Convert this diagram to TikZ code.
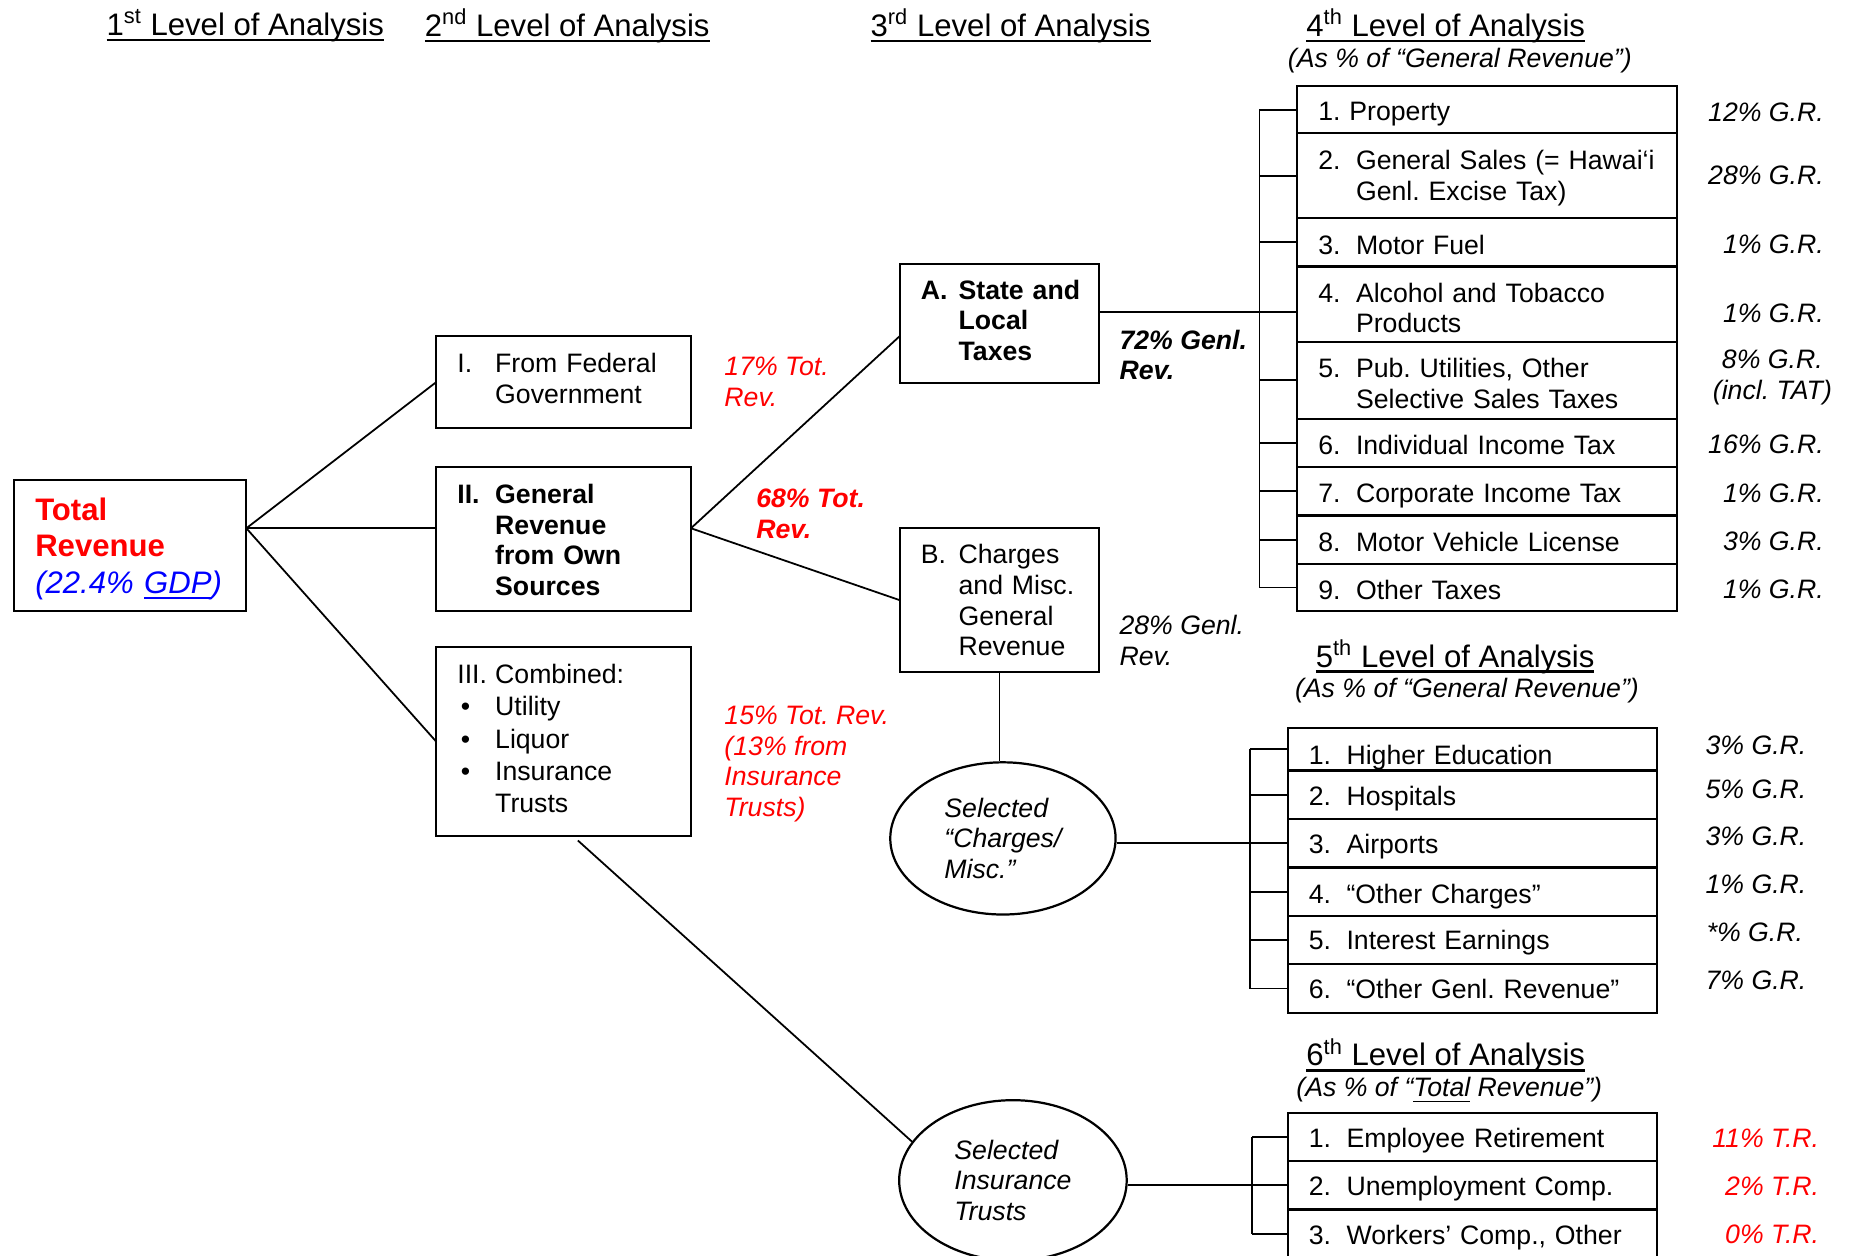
\documentclass[tikz,border=0pt]{standalone}
\usepackage{fontspec}
\setmainfont{Liberation Sans}
\usetikzlibrary{positioning,shapes.geometric}
\definecolor{RevRed}{HTML}{FF0000}
\definecolor{GdpBlue}{HTML}{0000FF}
\frenchspacing

\newcommand\bodysize{\fontsize{12}{13.8}\selectfont}
\newcommand\headsize{\fontsize{14}{16.4}\selectfont}
% underline sitting close to the baseline
\newcommand\uln[2][1.2pt]{\setbox0\hbox{#2}\rlap{\rule[-2.6pt]{\wd0}{#1}}\box0\relax}
% hanging number column
\newcommand\hang[1]{\makebox[17pt][l]{#1}}
% lower a box text a little, keeping its size
\newcommand\drop[2][1.6pt]{\raisebox{-#1}[\height][\depth]{#2}}

\tikzset{
  box/.style={draw,line width=1pt,rectangle,outer sep=0pt,inner xsep=9.5pt,inner ysep=0pt,
    align=left,anchor=north west,font=\bodysize},
  row4/.style={box,text width=151.9pt},
  row5/.style={box,text width=147.1pt},
  oval/.style={draw,line width=1pt,ellipse,inner sep=0pt,align=left,font=\bodysize\itshape},
  lvlhead/.style={inner sep=0pt,font=\headsize},
  lvlnote/.style={inner sep=0pt,font=\bodysize\itshape},
  share/.style={inner sep=0pt,anchor=west,align=left,font=\bodysize\itshape},
  pct/.style={inner sep=0pt,font=\bodysize\itshape},
  link/.style={line width=0.8pt},
}

\begin{document}
\begin{tikzpicture}[x=0.5307pt,y=-0.5307pt]
\useasboundingbox (0,0) rectangle (1568,1065);

% level headings
\node[lvlhead] (h1) at (208,22) {\uln{1\textsuperscript{st} Level of Analysis}};
\node[lvlhead] (h2) at (481,22) {\uln{2\textsuperscript{nd} Level of Analysis}};
\node[lvlhead] (h3) at (857,22) {\uln{3\textsuperscript{rd} Level of Analysis}};
\node[lvlhead] (h4) at (1226,22) {\uln{4\textsuperscript{th} Level of Analysis}};
\node[lvlnote] (n4) at (1238,51) {(As \% of “General Revenue”)};
\node[lvlhead] (h5) at (1234,557) {\uln{5\textsuperscript{th} Level of Analysis}};
\node[lvlnote] (n5) at (1244,586) {(As \% of “General Revenue”)};
\node[lvlhead] (h6) at (1226,895) {\uln{6\textsuperscript{th} Level of Analysis}};
\node[lvlnote] (n6) at (1229,924) {(As \% of “\uln[0.7pt]{Total} Revenue”)};

% levels 1 and 2
\node[box,text width=85.5pt,minimum height=58.9pt,font=\headsize] (trev) at (12,407)
  {\drop[1.9pt]{\begin{tabular}{@{}l@{}}\color{RevRed}\bfseries Total\\\color{RevRed}\bfseries Revenue\\
   \color{GdpBlue}\itshape(22.4\% \uln[0.8pt]{GDP})\end{tabular}}};
\node[box,text width=95.6pt,minimum height=41.4pt] (fed) at (370,285)
  {\begin{tabular}{@{}l@{}l@{}}\hang{I.}&From Federal\\&Government\end{tabular}};
\node[box,text width=95.6pt,minimum height=64.7pt,font=\bodysize\bfseries] (own) at (370,396)
  {\drop[2.1pt]{\begin{tabular}{@{}l@{}l@{}}\hang{II.}&General\\&Revenue\\&from Own\\&Sources\end{tabular}}};
\node[box,text width=95.6pt,minimum height=84.9pt] (comb) at (370,549)
  {\renewcommand\arraystretch{1.05}\begin{tabular}{@{}l@{}l@{}}\hang{III.}&Combined:\\\hang{\hspace{1.5pt}\textbullet}&Utility\\
   \hang{\hspace{1.5pt}\textbullet}&Liquor\\\hang{\hspace{1.5pt}\textbullet}&Insurance\\&Trusts\end{tabular}};

% level 3
\node[box,text width=70.7pt,minimum height=53.6pt,font=\bodysize\bfseries] (sltax) at (763,224)
  {\begin{tabular}{@{}l@{}l@{}}\hang{A.}&State and\\&Local\\&Taxes\end{tabular}};
\node[box,text width=70.7pt,minimum height=64.7pt] (chg) at (763,448)
  {\drop{\begin{tabular}{@{}l@{}l@{}}\hang{B.}&Charges\\&and Misc.\\&General\\&Revenue\end{tabular}}};
\node[oval,minimum width=101.4pt,minimum height=68.5pt] (sel) at (850.5,711) {Selected\\“Charges/\\Misc.”};
\node[oval,minimum width=102.4pt,minimum height=72.2pt] (ins) at (859,1001) {Selected\\Insurance\\Trusts};

% shares along the branches
\node[share,text=RevRed] (s17) at (614,324) {17\% Tot.\\Rev.};
\node[share,text=RevRed,font=\bodysize\bfseries\itshape] (s68) at (641,436) {68\% Tot.\\Rev.};
\node[share,text=RevRed] (s15) at (614,648) {15\% Tot. Rev.\\(13\% from\\Insurance\\Trusts)};
\node[share,font=\bodysize\bfseries\itshape] (s72) at (949,301) {72\% Genl.\\Rev.};
\node[share] (s28) at (949,543) {28\% Genl.\\Rev.};

% level 4
\node[row4,minimum height=21.2pt] (r1) at (1100,73) {\drop[2.1pt]{1. Property}};
\node[row4,minimum height=38.2pt,below=0pt of r1] (r2)
  {\drop{\begin{tabular}{@{}l@{}l@{}}\hang{2.}&General Sales (= Hawai‘i\\&Genl. Excise Tax)\end{tabular}}};
\node[row4,minimum height=21.8pt,below=0pt of r2] (r3) {\drop[1pt]{\hang{3.}Motor Fuel}};
\node[row4,minimum height=34pt,below=0pt of r3] (r4)
  {\drop[3.2pt]{\begin{tabular}{@{}l@{}l@{}}\hang{4.}&Alcohol and Tobacco\\&Products\end{tabular}}};
\node[row4,minimum height=34.5pt,below=0pt of r4] (r5)
  {\drop[2.9pt]{\begin{tabular}{@{}l@{}l@{}}\hang{5.}&Pub. Utilities, Other\\&Selective Sales Taxes\end{tabular}}};
\node[row4,minimum height=21.8pt,below=0pt of r5] (r6) {\drop[1pt]{\hang{6.}Individual Income Tax}};
\node[row4,minimum height=21.8pt,below=0pt of r6] (r7) {\drop[2.1pt]{\hang{7.}Corporate Income Tax}};
\node[row4,minimum height=21.8pt,below=0pt of r7] (r8) {\drop[1pt]{\hang{8.}Motor Vehicle License}};
\node[row4,minimum height=21.2pt,below=0pt of r8] (r9) {\drop[1pt]{\hang{9.}Other Taxes}};

\node[pct,anchor=east] (g1) at (1547,95) {12\% G.R.};
\node[pct,anchor=east] (g2) at (1547,149) {28\% G.R.};
\node[pct,anchor=east] (g3) at (1547,207) {1\% G.R.};
\node[pct,anchor=east] (g4) at (1547,266) {1\% G.R.};
\node[pct,align=center] (g5) at (1503,320) {8\% G.R.\\(incl. TAT)};
\node[pct,anchor=east] (g6) at (1547,377) {16\% G.R.};
\node[pct,anchor=east] (g7) at (1547,418) {1\% G.R.};
\node[pct,anchor=east] (g8) at (1547,459) {3\% G.R.};
\node[pct,anchor=east] (g9) at (1547,500) {1\% G.R.};

% level 5
\node[row5,minimum height=19.1pt] (c1) at (1092,617.5) {\drop[3.7pt]{\hang{1.}Higher Education}};
\node[row5,minimum height=21.8pt,below=0pt of c1] (c2) {\drop{\hang{2.}Hospitals}};
\node[row5,minimum height=21.8pt,below=0pt of c2] (c3) {\drop{\hang{3.}Airports}};
\node[row5,minimum height=21.8pt,below=0pt of c3] (c4) {\drop[2.1pt]{\hang{4.}“Other Charges”}};
\node[row5,minimum height=21.8pt,below=0pt of c4] (c5) {\drop[1pt]{\hang{5.}Interest Earnings}};
\node[row5,minimum height=21.8pt,below=0pt of c5] (c6) {\hang{6.}“Other Genl. Revenue”};

\node[pct,anchor=west] (m1) at (1446,632) {3\% G.R.};
\node[pct,anchor=west] (m2) at (1446,669) {5\% G.R.};
\node[pct,anchor=west] (m3) at (1446,709) {3\% G.R.};
\node[pct,anchor=west] (m4) at (1446,750) {1\% G.R.};
\node[pct,anchor=west] (m5) at (1447,791) {*\% G.R.};
\node[pct,anchor=west] (m6) at (1446,831) {7\% G.R.};

% level 6
\node[row5,minimum height=21.8pt] (u1) at (1092,943.6) {\drop{\hang{1.}Employee Retirement}};
\node[row5,minimum height=21.8pt,below=0pt of u1] (u2) {\drop{\hang{2.}Unemployment Comp.}};
\node[row5,minimum height=21.8pt,below=0pt of u2] (u3) {\drop{\hang{3.}Workers’ Comp., Other}};

\node[pct,anchor=east,text=RevRed] (t1) at (1543,965) {11\% T.R.};
\node[pct,anchor=east,text=RevRed] (t2) at (1543,1006) {2\% T.R.};
\node[pct,anchor=east,text=RevRed] (t3) at (1543,1047) {0\% T.R.};

% connectors
\coordinate (tout) at ([yshift=7.7pt]trev.east);
\draw[link] (tout) -- (fed.west);
\draw[link] (tout) -- (tout -| own.west);
\draw[link] (tout) -- (comb.west);
\coordinate (gout) at (tout -| own.east);
\coordinate (ain) at ([yshift=-5.6pt]sltax.west);
\draw[link] (gout) -- (ain);
\draw[link] (gout) -- (chg.west);
\draw[link] (chg.south) -- (chg.south |- sel.north);
\coordinate (cout) at ([xshift=6.4pt,yshift=-2pt]comb.south);
\draw[link] (cout) -- (ins.159);

% bracket of level 4
\coordinate (spine4) at (1068,0);
\coordinate (aout) at ([yshift=5.3pt]sltax.east);
\draw[link] (aout) -- (aout -| r4.west);
\draw[link] (r1.west -| spine4) -- (r9.west -| spine4);
\draw[link] (r1.west -| spine4) -- (r1.west);
\draw[link] (r2.west -| spine4) -- (r2.west);
\draw[link] (r3.west -| spine4) -- (r3.west);
\draw[link] (r5.west -| spine4) -- (r5.west);
\draw[link] (r6.west -| spine4) -- (r6.west);
\draw[link] (r7.west -| spine4) -- (r7.west);
\draw[link] (r8.west -| spine4) -- (r8.west);
\draw[link] (r9.west -| spine4) -- (r9.west);

% bracket of level 5
\coordinate (spine5) at (1060,0);
\draw[link] (sel.east |- c3.west) -- (c3.west);
\draw[link] (c1.west -| spine5) -- (c6.west -| spine5);
\draw[link] (c1.west -| spine5) -- (c1.west);
\draw[link] (c2.west -| spine5) -- (c2.west);
\draw[link] (c4.west -| spine5) -- (c4.west);
\draw[link] (c5.west -| spine5) -- (c5.west);
\draw[link] (c6.west -| spine5) -- (c6.west);

% bracket of level 6
\coordinate (spine6) at (1062,0);
\draw[link] (ins.east |- u2.west) -- (u2.west);
\draw[link] (u1.west -| spine6) -- (u3.west -| spine6);
\draw[link] (u1.west -| spine6) -- (u1.west);
\draw[link] (u3.west -| spine6) -- (u3.west);
\end{tikzpicture}
\end{document}
